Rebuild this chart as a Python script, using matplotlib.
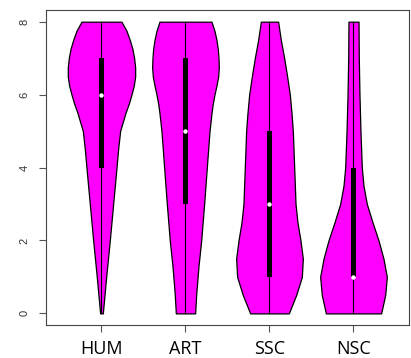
import matplotlib

matplotlib.use("Agg")
import matplotlib.pyplot as plt
from matplotlib.patches import Rectangle

groups = ["HUM", "ART", "SSC", "NSC"]

# violin half-widths (data units), listed top to bottom
hum_y = [8, 7.75, 7.5, 7.25, 7, 6.75, 6.5, 6.25, 6, 5.75, 5.5, 5.25, 5, 4.5, 4, 3, 2, 1, 0]
hum_w = [0.238, 0.298, 0.337, 0.369, 0.389, 0.401, 0.401, 0.385, 0.357, 0.325,
         0.286, 0.254, 0.222, 0.198, 0.179, 0.139, 0.099, 0.056, 0.016]
art_y = [8, 7.75, 7.5, 7.25, 7, 6.75, 6.5, 6.25, 6, 5.75, 5.5, 5, 4, 3, 2, 1.3, 0.5, 0]
art_w = [0.310, 0.345, 0.369, 0.385, 0.393, 0.397, 0.389, 0.369, 0.345, 0.325,
         0.310, 0.286, 0.254, 0.222, 0.187, 0.155, 0.127, 0.115]
ssc_y = [8, 7.5, 7, 6.5, 6, 5.5, 5, 4, 3, 2.5, 2, 1.5, 1, 0.5, 0]
ssc_w = [0.103, 0.135, 0.175, 0.210, 0.242, 0.262, 0.278, 0.294, 0.310, 0.333,
         0.369, 0.397, 0.385, 0.317, 0.230]
nsc_y = [8, 7, 6, 5, 4, 3.5, 3, 2.5, 2, 1.5, 1, 0.5, 0]
nsc_w = [0.060, 0.063, 0.071, 0.083, 0.099, 0.119, 0.159, 0.226, 0.298, 0.357,
         0.397, 0.377, 0.329]

mins = [0, 0, 0, 0]
maxs = [8, 8, 8, 8]
q1 = [4, 3, 1, 1]
q3 = [7, 7, 5, 4]
medians = [6, 5, 3, 1]

profiles = [(hum_y, hum_w), (art_y, art_w), (ssc_y, ssc_w), (nsc_y, nsc_w)]

fig = plt.figure(figsize=(4.11, 3.58), dpi=100)
ax = fig.add_axes([0.112, 0.092, 0.883, 0.880])

for i, (ys, ws) in enumerate(profiles):
    x = i + 1
    left = [x - w for w in ws]
    right = [x + w for w in ws]
    ax.fill_betweenx(ys, left, right, facecolor="#FF00FF", edgecolor="black",
                     linewidth=0.9, zorder=2)
    ax.plot([x, x], [mins[i], maxs[i]], color="black", linewidth=0.8, zorder=3)
    ax.add_patch(Rectangle((x - 0.028, q1[i]), 0.056, q3[i] - q1[i],
                           facecolor="black", edgecolor="none", zorder=4))
    ax.plot(x, medians[i], "o", color="white", markersize=3.2,
            markeredgewidth=0, zorder=5)

ax.set_xlim(0.34, 4.66)
ax.set_ylim(-0.32, 8.32)
ax.set_xticks(range(1, 5))
ax.set_xticklabels(groups, fontfamily="Open Sans", fontsize=13)
ax.set_yticks([0, 2, 4, 6, 8])
ax.set_yticklabels(["0", "2", "4", "6", "8"], rotation=90, va="center",
                   fontfamily="Liberation Sans", fontsize=8, color="#333333")
ax.tick_params(axis="x", length=5, pad=5.5, color="#555555", width=0.8)
ax.tick_params(axis="y", length=5, pad=7, color="#555555", width=0.8)

for s in ax.spines.values():
    s.set_color("#444444")
    s.set_linewidth(0.8)

fig.savefig("out.png", dpi=100)
